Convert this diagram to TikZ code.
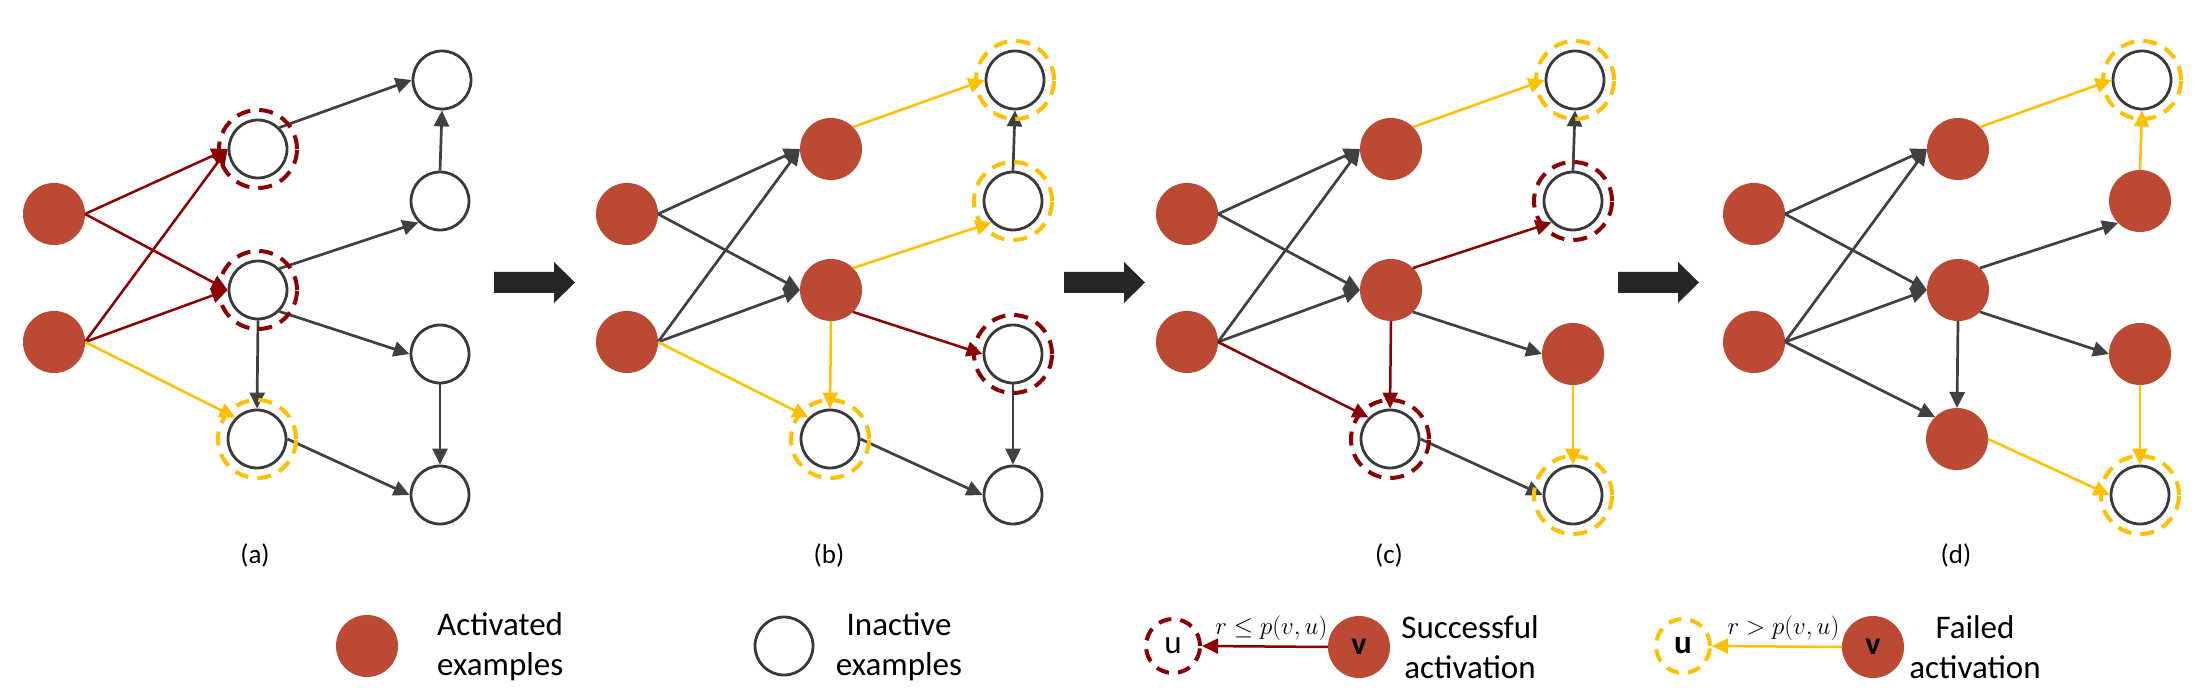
\documentclass[tikz,border=0pt]{standalone}
\usepackage{fontspec}
\setmainfont{Carlito}
\usetikzlibrary{arrows.meta}
\definecolor{actc}{RGB}{188,73,51}
\definecolor{redc}{RGB}{139,0,0}
\definecolor{yelc}{RGB}{255,192,0}
\definecolor{edgec}{RGB}{64,64,64}
\definecolor{nodec}{RGB}{58,58,58}
\definecolor{bigc}{RGB}{38,38,38}
\tikzset{
  act/.style={circle, fill=actc, draw=actc, line width=1pt, minimum size=61pt, inner sep=0pt},
  ina/.style={circle, draw=nodec, fill=white, line width=2.8pt, minimum size=58pt, inner sep=0pt},
  tip/.style={-{Triangle[length=16pt,width=15pt]}},
  gedge/.style={draw=edgec, line width=2.7pt, tip},
  redge/.style={draw=redc, line width=2.5pt, tip},
  yedge/.style={draw=yelc, line width=2.5pt, tip},
  rring/.style={draw=redc, line width=4pt, dash pattern=on 14pt off 9pt},
  yring/.style={draw=yelc, line width=4pt, dash pattern=on 14pt off 9pt},
  uring/.style={circle, line width=4pt, dash pattern=on 13pt off 9pt, minimum size=54pt, inner sep=0pt, font=\fontsize{33}{36}\selectfont},
  plabel/.style={inner sep=0pt, font=\fontsize{27}{32}\selectfont},
  ltext/.style={inner sep=0pt, font=\fontsize{33}{40}\selectfont},
  mlabel/.style={above=5pt, inner sep=0pt, font=\fontsize{23}{27}\selectfont, text=black},
  vlab/.style={font=\fontsize{32}{36}\selectfont\bfseries},
  bigarr/.pic={\fill[bigc] (0,-10.5) -- (60,-10.5) -- (60,-20.5) -- (81,0) -- (60,20.5) -- (60,10.5) -- (0,10.5) -- cycle;}
}
\begin{document}
\begin{tikzpicture}[x=1pt,y=-1pt]
\fill[white] (0,0) rectangle (2200,700);
\useasboundingbox (0,0) rectangle (2200,700);

% ---------- panel (a)
\node[act] (as1) at (54,214) {};
\node[act] (as2) at (54,342) {};
\node[ina] (am1) at (258,149) {};
\node[ina] (am2) at (258,290) {};
\node[ina] (am3) at (257,439) {};
\node[ina] (ar1) at (442,80) {};
\node[ina] (ar2) at (440,201) {};
\node[ina] (ar3) at (440,354) {};
\node[ina] (ar4) at (440,495) {};
\draw[redge] (as1.east) -- (am1.west);
\draw[redge] (as1.east) -- (am2.west);
\draw[redge] (as2.east) -- (am1.west);
\draw[redge] (as2.east) -- (am2.west);
\draw[yedge] (as2.east) -- (am3.north west);
\draw[gedge] (am1.north east) -- (ar1.west);
\draw[gedge] (am2.north east) -- (ar2.south west);
\draw[gedge] (am2.south east) -- (ar3.west);
\draw[gedge] (am2.south) -- (am3.north);
\draw[gedge] (am3.east) -- (ar4.west);
\draw[gedge] (ar2.north) -- (ar1.south);
\draw[gedge] (ar3.south) -- (ar4.north);
\draw[rring] (am1) circle[radius=39pt];
\draw[rring] (am2) circle[radius=39pt];
\draw[yring] (am3) circle[radius=39pt];
\node[plabel] (alab) at (255,555) {(a)};

\pic at (494,282.5) {bigarr};

% ---------- panel (b)
\begin{scope}[xshift=573pt]
\node[act] (bs1) at (54,214) {};
\node[act] (bs2) at (54,342) {};
\node[act] (bm1) at (258,149) {};
\node[act] (bm2) at (258,290) {};
\node[ina] (bm3) at (257,439) {};
\node[ina] (br1) at (442,80) {};
\node[ina] (br2) at (440,201) {};
\node[ina] (br3) at (440,354) {};
\node[ina] (br4) at (440,495) {};
\draw[gedge] (bs1.east) -- (bm1.west);
\draw[gedge] (bs1.east) -- (bm2.west);
\draw[gedge] (bs2.east) -- (bm1.west);
\draw[gedge] (bs2.east) -- (bm2.west);
\draw[yedge] (bs2.east) -- (bm3.north west);
\draw[yedge] (bm1.north east) -- (br1.west);
\draw[yedge] (bm2.north east) -- (br2.south west);
\draw[redge] (bm2.south east) -- (br3.west);
\draw[yedge] (bm2.south) -- (bm3.north);
\draw[gedge] (bm3.east) -- (br4.west);
\draw[gedge] (br2.north) -- (br1.south);
\draw[gedge] (br3.south) -- (br4.north);
\draw[yring] (br1) circle[radius=39pt];
\draw[yring] (br2) circle[radius=39pt];
\draw[rring] (br3) circle[radius=39pt];
\draw[yring] (bm3) circle[radius=39pt];
\node[plabel] (blab) at (256,555) {(b)};
\end{scope}

\pic at (1064,282.5) {bigarr};

% ---------- panel (c)
\begin{scope}[xshift=1133pt]
\node[act] (cs1) at (54,214) {};
\node[act] (cs2) at (54,342) {};
\node[act] (cm1) at (258,149) {};
\node[act] (cm2) at (258,290) {};
\node[ina] (cm3) at (257,439) {};
\node[ina] (cr1) at (442,80) {};
\node[ina] (cr2) at (440,201) {};
\node[act] (cr3) at (440,354) {};
\node[ina] (cr4) at (440,495) {};
\draw[gedge] (cs1.east) -- (cm1.west);
\draw[gedge] (cs1.east) -- (cm2.west);
\draw[gedge] (cs2.east) -- (cm1.west);
\draw[gedge] (cs2.east) -- (cm2.west);
\draw[redge] (cs2.east) -- (cm3.north west);
\draw[yedge] (cm1.north east) -- (cr1.west);
\draw[redge] (cm2.north east) -- (cr2.south west);
\draw[gedge] (cm2.south east) -- (cr3.west);
\draw[redge] (cm2.south) -- (cm3.north);
\draw[gedge] (cm3.east) -- (cr4.west);
\draw[gedge] (cr2.north) -- (cr1.south);
\draw[yedge] (cr3.south) -- (cr4.north);
\draw[yring] (cr1) circle[radius=39pt];
\draw[rring] (cr2) circle[radius=39pt];
\draw[rring] (cm3) circle[radius=39pt];
\draw[yring] (cr4) circle[radius=39pt];
\node[plabel] (clab) at (256,555) {(c)};
\end{scope}

\pic at (1618,282.5) {bigarr};

% ---------- panel (d)
\begin{scope}[xshift=1700pt]
\node[act] (ds1) at (54,214) {};
\node[act] (ds2) at (54,342) {};
\node[act] (dm1) at (258,149) {};
\node[act] (dm2) at (258,290) {};
\node[act] (dm3) at (257,439) {};
\node[ina] (dr1) at (442,80) {};
\node[act] (dr2) at (440,201) {};
\node[act] (dr3) at (440,354) {};
\node[ina] (dr4) at (440,495) {};
\draw[gedge] (ds1.east) -- (dm1.west);
\draw[gedge] (ds1.east) -- (dm2.west);
\draw[gedge] (ds2.east) -- (dm1.west);
\draw[gedge] (ds2.east) -- (dm2.west);
\draw[gedge] (ds2.east) -- (dm3.north west);
\draw[yedge] (dm1.north east) -- (dr1.west);
\draw[gedge] (dm2.north east) -- (dr2.south west);
\draw[gedge] (dm2.south east) -- (dr3.west);
\draw[gedge] (dm2.south) -- (dm3.north);
\draw[yedge] (dm3.east) -- (dr4.west);
\draw[yedge] (dr2.north) -- (dr1.south);
\draw[yedge] (dr3.south) -- (dr4.north);
\draw[yring] (dr1) circle[radius=39pt];
\draw[yring] (dr4) circle[radius=39pt];
\node[plabel] (dlab) at (256,555) {(d)};
\end{scope}

% ---------- legend
\node[act] (lgA) at (367,646) {};
\node[ltext, anchor=west, align=left] (lgAt) at (437,647) {Activated\\examples};
\node[ina] (lgI) at (784,646) {};
\node[ltext, align=center] (lgIt) at (899,647) {Inactive\\examples};

\node[uring, draw=redc] (lgSu) at (1173,646) {u};
\node[act, vlab] (lgSv) at (1359,647) {v};
\draw[redge] (lgSv.west) -- node[mlabel, pos=0.45] {$r \le p(v,u)$} (lgSu.east);
\node[ltext, align=center] (lgSt) at (1470,647) {Successful\\activation};

\node[uring, draw=yelc, font=\fontsize{33}{36}\selectfont\bfseries] (lgFu) at (1683,646) {u};
\node[act, vlab] (lgFv) at (1873,647) {v};
\draw[yedge] (lgFv.west) -- node[mlabel, pos=0.45] {$r > p(v,u)$} (lgFu.east);
\node[ltext, align=center] (lgFt) at (1975,647) {Failed\\activation};
\end{tikzpicture}
\end{document}
